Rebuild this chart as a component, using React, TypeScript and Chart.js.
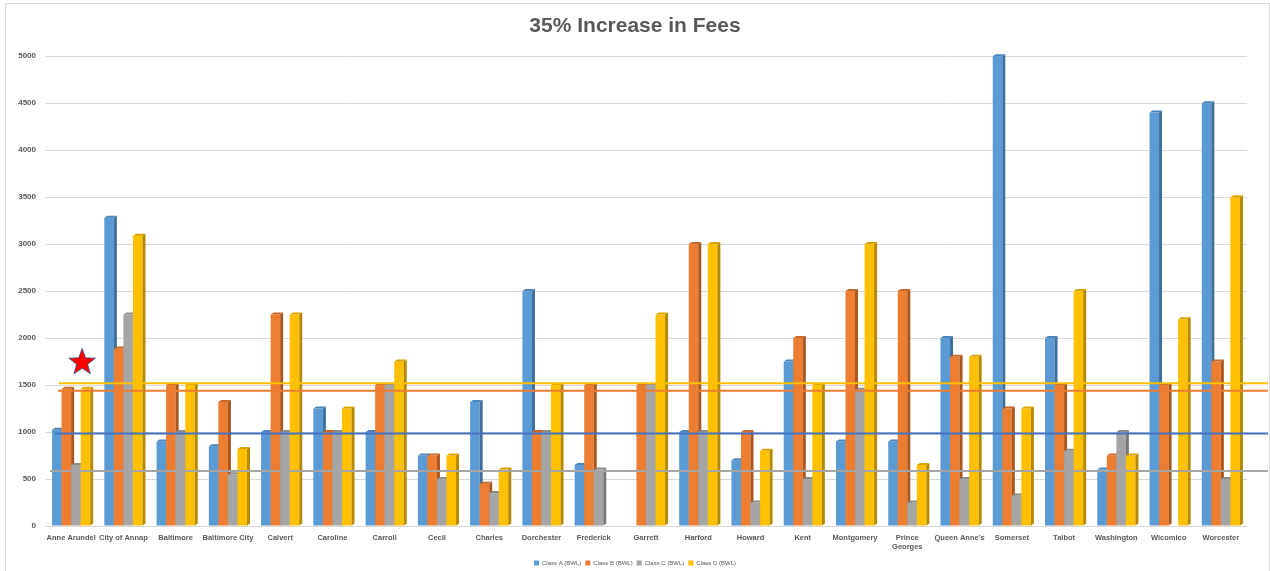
import React, { useEffect, useRef } from "react";
import { Chart, registerables } from "chart.js";

Chart.register(...registerables);

const categories: (string | string[])[] = [
  "Anne Arundel", "City of Annap", "Baltimore", "Baltimore City", "Calvert", "Caroline",
  "Carroll", "Cecil", "Charles", "Dorchester", "Frederick", "Garrett", "Harford", "Howard",
  "Kent", "Montgomery", ["Prince", "Georges"], "Queen Anne's", "Somerset", "Talbot",
  "Washington", "Wicomico", "Worcester",
];

const classA: (number | null)[] = [1025, 3280, 900, 850, 1000, 1250, 1000, 750, 1320, 2500, 650, null, 1000, 700, 1750, 900, 900, 2000, 5000, 2000, 600, 4400, 4500];
const classB: (number | null)[] = [1460, 1890, 1500, 1320, 2250, 1000, 1500, 750, 450, 1000, 1500, 1500, 3000, 1000, 2000, 2500, 2500, 1800, 1250, 1500, 750, 1500, 1750];
const classC: (number | null)[] = [650, 2250, 1000, 550, 1000, 1000, 1500, 500, 350, 1000, 600, 1500, 1000, 250, 500, 1450, 250, 500, 325, 800, 1000, null, 500];
const classD: (number | null)[] = [1460, 3090, 1500, 820, 2250, 1250, 1750, 750, 600, 1500, null, 2250, 3000, 800, 1500, 3000, 650, 1800, 1250, 2500, 750, 2200, 3500];

const seriesNames = ["Class A (BWL)", "Class B (BWL)", "Class C (BWL)", "Class D (BWL)"];
const seriesValues = [classA, classB, classC, classD];
const seriesColors = ["#5B9BD5", "#ED7D31", "#A5A5A5", "#FFC000"];
const sideColors = ["#3F6F9C", "#A9561F", "#777777", "#B58900"];
const topColors = ["#4A84BA", "#C96726", "#8C8C8C", "#D9A300"];

// horizontal reference lines (drawn in this order)
const refLineValues = [585, 985, 1440, 1520];
const refLineColors = ["#A5A5A5", "#4472C4", "#ED7D31", "#FFC000"];
const refLineStartOffsets = [5, 10, 13, 14];

// star marker
const starCategoryIndex = 0;
const starValue = 1740;

const yMin = 0;
const yMax = 5000;
const yStep = 500;

const FONT = "'Liberation Sans', Arial, sans-serif";
const TEXT = "#595959";

function drawStar(ctx: CanvasRenderingContext2D, cx: number, cy: number, rOuter: number, rInner: number) {
  ctx.beginPath();
  for (let k = 0; k < 10; k++) {
    const r = k % 2 === 0 ? rOuter : rInner;
    const a = -Math.PI / 2 + (k * Math.PI) / 5;
    const px = cx + r * Math.cos(a);
    const py = cy + r * Math.sin(a);
    if (k === 0) ctx.moveTo(px, py);
    else ctx.lineTo(px, py);
  }
  ctx.closePath();
}

const bars3d = {
  id: "bars3d",
  beforeDatasetsDraw(chart: any) {
    const ctx: CanvasRenderingContext2D = chart.ctx;
    const dx = 3;
    const dy = 2;
    ctx.save();
    chart.data.datasets.forEach((ds: any, i: number) => {
      const meta = chart.getDatasetMeta(i);
      meta.data.forEach((el: any, j: number) => {
        const v = ds.data[j];
        if (v == null) return;
        const { x, y, base, width } = el.getProps(["x", "y", "base", "width"], true);
        const l = x - width / 2;
        const r = x + width / 2;
        ctx.fillStyle = seriesColors[i];
        ctx.fillRect(l, y, width, base - y);
        ctx.fillStyle = sideColors[i];
        ctx.beginPath();
        ctx.moveTo(r, y);
        ctx.lineTo(r + dx, y - dy);
        ctx.lineTo(r + dx, base - dy);
        ctx.lineTo(r, base);
        ctx.closePath();
        ctx.fill();
        ctx.fillStyle = topColors[i];
        ctx.beginPath();
        ctx.moveTo(l, y);
        ctx.lineTo(l + dx, y - dy);
        ctx.lineTo(r + dx, y - dy);
        ctx.lineTo(r, y);
        ctx.closePath();
        ctx.fill();
      });
    });

    const yScale = chart.scales.y;
    const xScale = chart.scales.x;
    const area = chart.chartArea;
    refLineValues.forEach((v, k) => {
      const py = yScale.getPixelForValue(v);
      ctx.strokeStyle = refLineColors[k];
      ctx.lineWidth = 2;
      ctx.beginPath();
      ctx.moveTo(area.left + refLineStartOffsets[k], py);
      ctx.lineTo(chart.width - 2, py);
      ctx.stroke();
    });

    const sx = xScale.getPixelForValue(starCategoryIndex) + 11;
    const sy = yScale.getPixelForValue(starValue);
    drawStar(ctx, sx, sy, 14, 5.8);
    ctx.fillStyle = "#FF0000";
    ctx.fill();
    ctx.strokeStyle = "#2F528F";
    ctx.lineWidth = 0.8;
    ctx.stroke();
    ctx.restore();
    return false;
  },
};

export default function App() {
  const canvasRef = useRef<HTMLCanvasElement | null>(null);

  useEffect(() => {
    if (!canvasRef.current) return;
    const chart = new Chart(canvasRef.current, {
      type: "bar",
      data: {
        labels: categories,
        datasets: seriesNames.map((name, i) => ({
          label: name,
          data: seriesValues[i],
          backgroundColor: seriesColors[i],
          borderWidth: 0,
          categoryPercentage: 0.73,
          barPercentage: 1,
        })),
      },
      options: {
        responsive: false,
        animation: false,
        layout: { padding: { left: 15, right: 15, top: 0, bottom: -5 } },
        plugins: {
          title: {
            display: true,
            text: "35% Increase in Fees",
            color: TEXT,
            font: { family: FONT, size: 21, weight: "bold" },
            padding: { top: 14, bottom: 17 },
          },
          legend: {
            position: "bottom",
            labels: {
              color: TEXT,
              font: { family: FONT, size: 6 },
              boxWidth: 5,
              boxHeight: 5,
              padding: 4,
            },
          },
          tooltip: { enabled: false },
        },
        scales: {
          x: {
            grid: { display: false },
            border: { display: false },
            ticks: {
              color: TEXT,
              font: { family: FONT, size: 7.5, weight: "bold" },
              maxRotation: 0,
              autoSkip: false,
              padding: -1,
            },
            afterFit: (scale: any) => {
              scale.height = 30;
            },
          },
          y: {
            min: yMin,
            max: yMax,
            grid: { color: "#D9D9D9", drawTicks: false },
            border: { display: false },
            ticks: {
              stepSize: yStep,
              color: TEXT,
              font: { family: FONT, size: 8, weight: "bold" },
              padding: 9,
              callback: (v: any) => String(v),
            },
            afterFit: (scale: any) => {
              scale.width = 30;
            },
          },
          yRight: {
            position: "right",
            display: true,
            grid: { display: false },
            border: { display: false },
            ticks: { display: false },
            afterFit: (scale: any) => {
              scale.width = 8;
            },
          },
        },
      },
      plugins: [bars3d],
    });
    return () => chart.destroy();
  }, []);

  return (
    <>
      <canvas
        ref={canvasRef}
        width={1270}
        height={571}
        style={{ position: "fixed", left: 0, top: 0, width: 1270, height: 571, background: "#fff" }}
      />
      <div
        style={{
          position: "fixed",
          left: 5,
          top: 3,
          width: 1265,
          height: 600,
          border: "1px solid #D9D9D9",
          boxSizing: "border-box",
          pointerEvents: "none",
        }}
      />
    </>
  );
}
